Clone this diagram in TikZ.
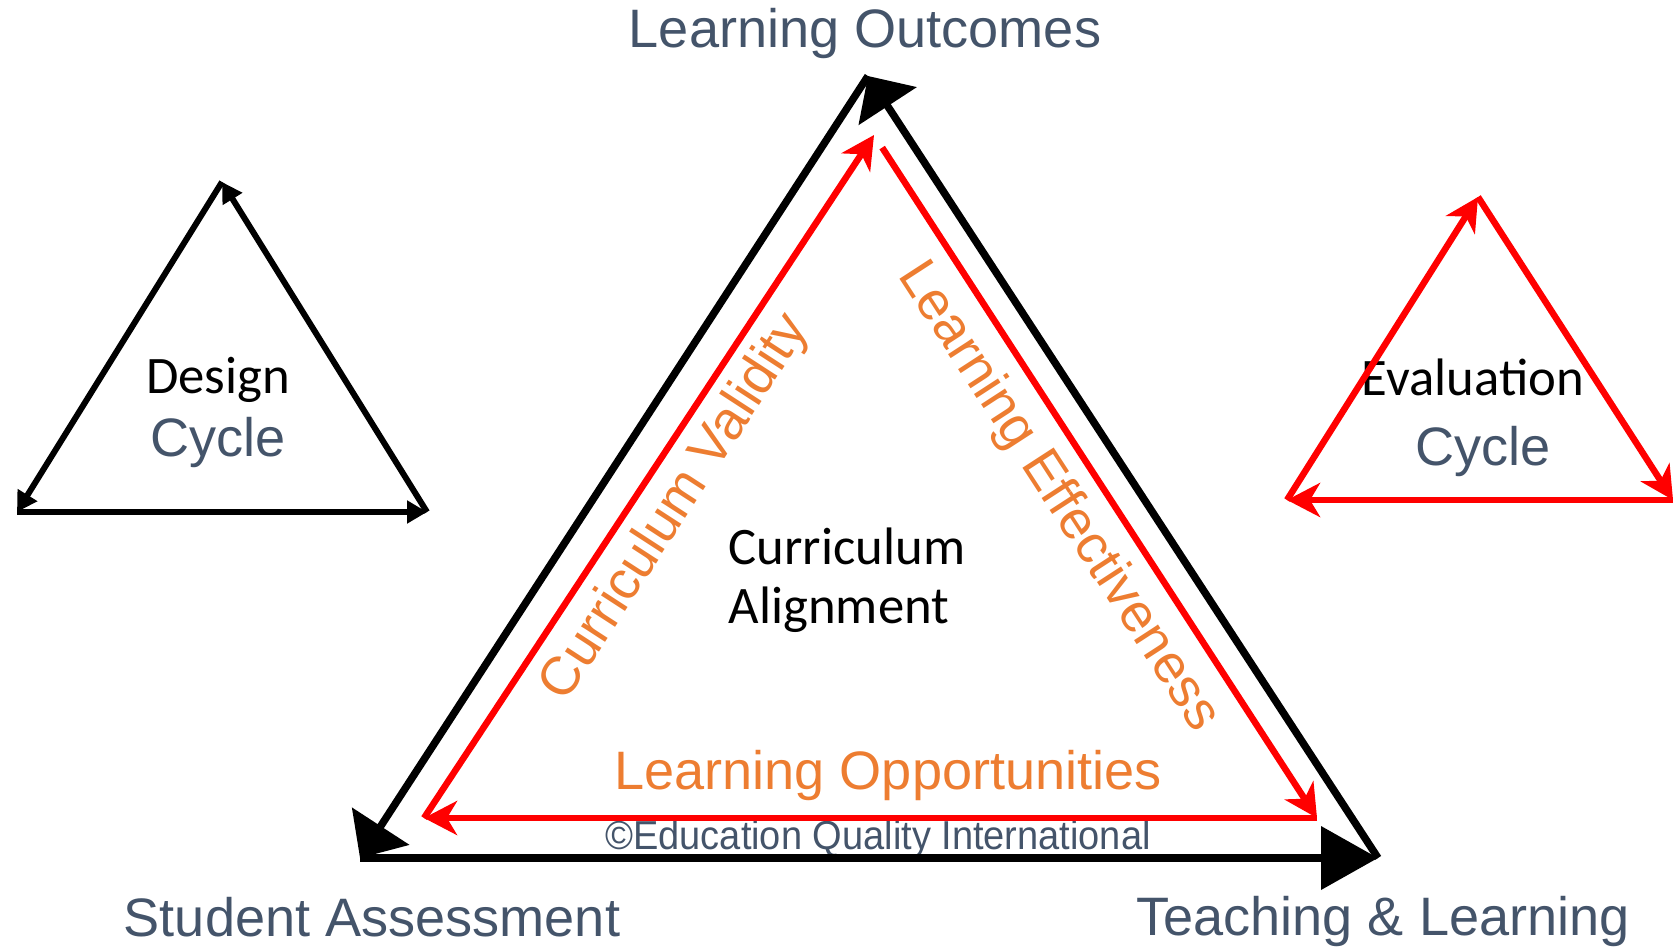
\documentclass[tikz,border=0pt]{standalone}
\usepackage{fontspec}
\setmainfont{Liberation Sans}
\newfontfamily\calibrifont{Carlito}
\newfontfamily\narrowfont[FakeStretch=0.94]{Liberation Sans}
\usepackage{tikz}
\usetikzlibrary{arrows.meta}
\usepackage{xcolor}
\definecolor{slate}{HTML}{44546A}
\definecolor{accent}{HTML}{ED7D31}

\begin{document}
\begin{tikzpicture}[
		corner/.style={text=slate, font=\fontsize{15.4}{18}\selectfont},
		side/.style={text=accent, font=\fontsize{15.4}{18}\selectfont},
		inner/.style={text=black, font=\calibrifont\fontsize{15}{16.8}\selectfont},
		blk/.style={line width=0.075cm, black},
		rd/.style={line width=0.065cm, red},
		smallblk/.style={line width=0.06cm, black, -{Triangle[length=0.2cm, width=0.22cm]}},
		redtip/.style={-{Stealth[length=0.33cm, width=0.34cm, inset=0.1cm]}}
	]
		\useasboundingbox (0,0) rectangle (16.78,9.46);
		
		% corners of the three cycles
		\coordinate (a) at (8.68,8.70);
		\coordinate (b) at (3.60,0.88);
		\coordinate (c) at (13.78,0.88);
		\coordinate (ra) at (8.74,8.11);
		\coordinate (rb) at (4.24,1.28);
		\coordinate (rc) at (13.17,1.28);
		\coordinate (da) at (2.22,7.64);
		\coordinate (db) at (0.17,4.34);
		\coordinate (dc) at (4.27,4.34);
		\coordinate (ea) at (14.78,7.49);
		\coordinate (eb) at (12.87,4.46);
		\coordinate (ec) at (16.73,4.46);
		
		\draw (8.65,9.12) node[corner] (lo) {Learning Outcomes}
		(3.72,0.29) node[corner] (sa) {Student Assessment}
		(13.83,0.25) node[corner] (tl) {Teaching \& Learning}
		(8.88,1.71) node[side] (lop) {Learning Opportunities}
		(6.76,4.38) node[side, rotate=57] (cv) {Curriculum Validity}
		(10.58,4.49) node[side, rotate=-57] (le) {Learning Effectiveness}
		(8.78,1.07) node[text=slate, font=\narrowfont\fontsize{11.5}{14}\selectfont] (eqi) {©Education Quality International}
		(8.47,3.655) node[inner, align=left] (ca) {Curriculum\\Alignment}
		(2.18,5.66) node[inner] (dn) {Design}
		(2.18,5.03) node[corner] (dcy) {Cycle}
		(14.73,5.69) node[inner] (ev) {Evaluation}
		(14.83,4.94) node[corner] (ecy) {Cycle};
		
		% outer black cycle
		\draw[blk, -{Triangle[length=0.38cm, width=0.67cm]}] (a) -- (b);
		\draw[blk, -{Triangle[length=0.57cm, width=0.62cm]}] (b) -- (c);
		\draw[blk, -{Triangle[length=0.36cm, width=0.68cm]}] (c) -- (a);
		
		% inner red cycle
		\draw[rd, redtip, shorten <=0.15cm] (ra) -- (rc);
		\draw[rd, redtip] (rc) -- (rb);
		\draw[rd, redtip] (rb) -- (ra);
		
		% design cycle
		\draw[smallblk] (da) -- (db);
		\draw[smallblk] (db) -- (dc);
		\draw[smallblk] (dc) -- (da);
		
		% evaluation cycle
		\draw[rd, redtip] (eb) -- (ea);
		\draw[rd, redtip] (ea) -- (ec);
		\draw[rd, redtip] (ec) -- (eb);
	\end{tikzpicture}
\end{document}
